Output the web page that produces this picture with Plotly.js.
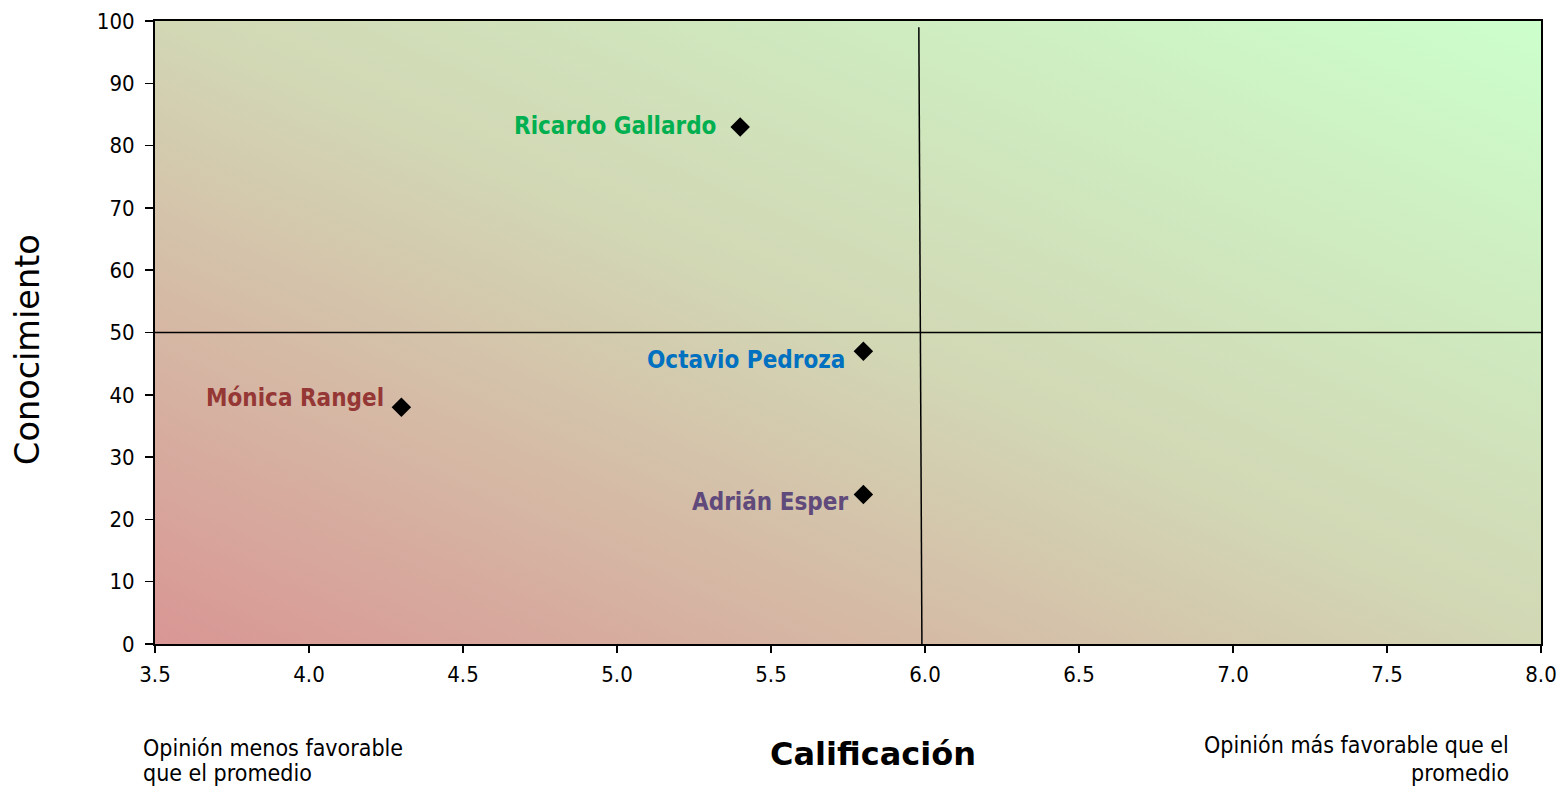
<!DOCTYPE html>
<html>
<head>
<meta charset="utf-8">
<script src="https://cdn.plot.ly/plotly-3.0.1.min.js"></script>
<style>html,body{margin:0;padding:0;background:#fff;}#chart{width:1562px;height:788px;}</style>
</head>
<body>
<div id="chart"></div>
<script>
const names = ["Ricardo Gallardo", "Octavio Pedroza", "Mónica Rangel", "Adrián Esper"];
const calificacion = [5.4, 5.8, 4.3, 5.8];
const conocimiento = [83, 47, 38, 24];
const labelColors = ["#00B050", "#0070C0", "#953735", "#604A7B"];
const labelShiftX = [-22, -16, -15, -13];
const labelShiftY = [1, -9, 9, -8];
const xTicks = [3.5, 4.0, 4.5, 5.0, 5.5, 6.0, 6.5, 7.0, 7.5, 8.0];
const xTickText = ["3.5", "4.0", "4.5", "5.0", "5.5", "6.0", "6.5", "7.0", "7.5", "8.0"];
const yTicks = [0, 10, 20, 30, 40, 50, 60, 70, 80, 90, 100];
const leftNote = ["Opinión menos favorable", "que el promedio"];
const rightNote = ["Opinión más favorable que el", "promedio"];
const avgCalif = 6.0;
const avgConoc = 50;

const FONT = "'DejaVu Sans Condensed', 'DejaVu Sans', sans-serif";
const TFONT = "'DejaVu Sans', sans-serif";

const svg = '<svg xmlns="http://www.w3.org/2000/svg" width="1386" height="623" preserveAspectRatio="none">' +
  '<defs><linearGradient id="g" x1="0" y1="1" x2="1" y2="0">' +
  '<stop offset="0" stop-color="#D99694"/><stop offset="0.5" stop-color="#D2D7B4"/><stop offset="1" stop-color="#CCFFCC"/>' +
  '</linearGradient></defs><rect width="1386" height="623" fill="url(#g)"/></svg>';
const bg = 'data:image/svg+xml;base64,' + btoa(svg);

const trace = {
  x: calificacion, y: conocimiento, type: "scatter", mode: "markers",
  marker: {symbol: "diamond", size: 15, color: "#000"},
  hoverinfo: "x+y", cliponaxis: false, showlegend: false
};

const annotations = names.map((n, i) => ({
  x: calificacion[i], y: conocimiento[i], xref: "x", yref: "y",
  text: "<b>" + n + "</b>", showarrow: false, xanchor: "right", yanchor: "middle",
  xshift: labelShiftX[i], yshift: labelShiftY[i],
  font: {family: FONT, size: 24, color: labelColors[i]}
}));
const leftY = [-0.1669, -0.2071];
const rightY = [-0.1621, -0.2071];
leftNote.forEach((t, i) => annotations.push({
  xref: "paper", yref: "paper", x: -0.0101, y: leftY[i], xanchor: "left", yanchor: "middle",
  showarrow: false, text: t, font: {family: FONT, size: 23, color: "#000"}
}));
rightNote.forEach((t, i) => annotations.push({
  xref: "paper", yref: "paper", x: 0.9784, y: rightY[i], xanchor: "right", yanchor: "middle",
  showarrow: false, text: t, font: {family: FONT, size: 23, color: "#000"}
}));
annotations.push({
  xref: "paper", yref: "paper", x: 0.518, y: -0.1766, xanchor: "center", yanchor: "middle",
  showarrow: false, text: "<b>Calificación</b>",
  font: {family: TFONT, size: 32, color: "#000"}
});
annotations.push({
  xref: "paper", yref: "paper", x: -0.0916, y: 0.472, xanchor: "center", yanchor: "middle",
  showarrow: false, text: "Conocimiento", textangle: -90,
  font: {family: TFONT, size: 33.5, color: "#000"}
});

const layout = {
  width: 1562, height: 788,
  margin: {l: 155, r: 21, t: 21, b: 144},
  paper_bgcolor: "#fff", plot_bgcolor: "rgba(0,0,0,0)",
  font: {family: FONT, color: "#000"},
  xaxis: {
    range: [3.5, 8.0], tickvals: xTicks, ticktext: xTickText,
    showgrid: false, zeroline: false, showline: true, linecolor: "#000", linewidth: 2,
    mirror: true, ticks: "outside", ticklen: 7, tickwidth: 1.5, tickcolor: "#000",
    tickfont: {family: FONT, size: 22}, ticklabelstandoff: 3, fixedrange: true
  },
  yaxis: {
    range: [0, 100], tickvals: yTicks,
    showgrid: false, zeroline: false, showline: true, linecolor: "#000", linewidth: 2,
    mirror: true, ticks: "outside", ticklen: 8, tickwidth: 1.5, tickcolor: "#000",
    tickfont: {family: FONT, size: 22}, ticklabelstandoff: 6,
    fixedrange: true
  },
  images: [{
    source: bg, xref: "paper", yref: "paper", x: 0, y: 1, sizex: 1, sizey: 1,
    sizing: "stretch", layer: "below", xanchor: "left", yanchor: "top"
  }],
  shapes: [
    {type: "line", xref: "x", yref: "y", x0: avgCalif - 0.01, y0: 0, x1: avgCalif - 0.02, y1: 99,
     line: {color: "#000", width: 1.5}},
    {type: "line", xref: "x", yref: "y", x0: 3.48, y0: avgConoc, x1: 8.0, y1: avgConoc,
     line: {color: "#000", width: 1.5}}
  ],
  annotations: annotations,
  showlegend: false
};

Plotly.newPlot("chart", [trace], layout, {displayModeBar: false, staticPlot: true});
</script>
</body>
</html>
